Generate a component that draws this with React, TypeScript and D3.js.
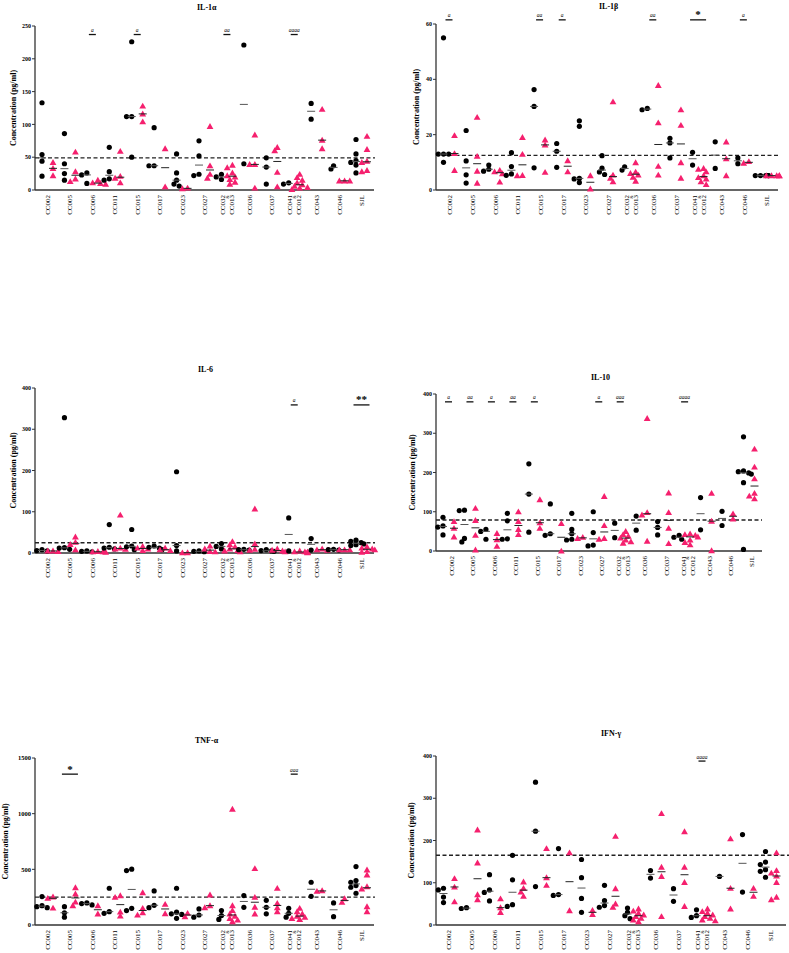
import React from 'react';
import * as d3 from 'd3';

// ---------- DATA ----------
const groups = ['CC002', 'CC005', 'CC006', 'CC011', 'CC015', 'CC017', 'CC023', 'CC027', 'CC032|CC013', 'CC036', 'CC037', 'CC041|CC012', 'CC043', 'CC046', 'SJL'];

// IL-1α
const il1aTicks = [0, 50, 100, 150, 200, 250];
const il1aDashed = 49;
const il1aBlack = [[133, 54, 44, 21], [86, 40, 25, 15], [26, 23, 10], [65, 28, 17, 15], [226, 112, 112, 50], [95, 37, 37], [55, 26, 15, 9, 6], [75, 52, 24, 22], [24, 20, 16], [221, 40], [49, 35, 9], [11, 9], [132, 108], [37, 32], [77, 55, 45, 42, 38, 26]];
const il1aPink = [[42, 33, 22], [58, 28, 17, 13], [15, 11, 10, 9], [59, 21, 18, 11], [128, 116, 104], [63, 5], [3, 2], [97, 37, 24, 18], [38, 34, 26, 22, 20, 16, 12, 9], [84, 39, 39, 3], [65, 60, 27, 5], [24, 19, 15, 11, 8, 6, 4, 3, 1], [123, 76, 63], [14, 14, 14], [82, 62, 44, 42, 30, 28]];
const il1aSig = [{ g: 'CC006', s: 'a', v: 237 }, { g: 'CC015', s: 'a', v: 237 }, { g: 'CC032|CC013', s: 'aa', v: 237 }, { g: 'CC041|CC012', s: 'aaaa', v: 237 }];

// IL-1β
const il1bTicks = [0, 20, 40, 60];
const il1bDashed = 12.5;
const il1bBlack = [[55, 13, 13, 13, 10], [21.5, 10.5, 5.5, 2.5], [9, 7.5, 6.8], [13.5, 8.5, 5.8, 5.3], [36.3, 30.2, 8], [16.8, 14, 8.2], [25, 23, 4.2, 4, 2.7], [12.4, 7.9, 6.5, 5.6], [8.4, 7.2], [29.5, 29], [18.7, 17, 11.6], [13.6, 9], [17.4, 7.8], [11.6, 9.5], [5.2, 5.2, 5.2, 5.2, 5.2]];
const il1bPink = [[19.7, 13.2, 7.1], [26.3, 12.2, 6.8, 2.5], [7.1, 6.6, 5.9, 2.9], [19, 12.9, 5.3, 5.2], [18.1, 16.3, 6.4], [10.6, 6.6], [5.2, 0.4], [31.9, 5.4, 4.3, 3], [9.9, 6.5, 6, 5.4, 4.6, 3.2], [37.8, 24.3, 8.6, 5.4], [29, 23.4, 9.9, 4.3], [7.8, 7.5, 6.6, 5.2, 4.5, 4, 3, 2], [17.4, 11.3, 5.2], [10.3, 9.7], [5.2, 5.2, 5.2, 5.2, 5.2]];
const il1bSig = [{ g: 'CC002', s: 'a', v: 61.5 }, { g: 'CC015', s: 'aa', v: 61.5 }, { g: 'CC017', s: 'a', v: 61.5 }, { g: 'CC036', s: 'aa', v: 61.5 }, { g: 'CC041|CC012', s: '*', v: 61.5, long: true }, { g: 'CC046', s: 'a', v: 61.5 }];

// IL-6
const il6Ticks = [0, 100, 200, 300, 400];
const il6Dashed = 25;
const il6Black = [[8, 6, 5], [328, 13, 12, 9], [5, 4, 3], [69, 14, 12, 10], [57, 17, 15, 8], [17, 14, 12, 8], [197, 18, 5], [5, 4, 3], [23, 16, 10], [9, 8, 7], [8, 6, 5, 4], [85, 5], [35, 7], [9, 8, 7], [31, 28, 25, 22, 20, 18]];
const il6Pink = [[5, 5, 4], [39, 26, 21, 8], [4, 3, 3, 2], [92, 12, 10, 9], [16, 12, 10, 6], [12, 8, 6], [1, 0.5], [17, 10, 4, 3], [28, 20, 15, 10, 6, 5, 3], [107, 22, 9, 7], [10, 7, 5, 3], [5, 3, 2, 1, 2, 3], [10, 8, 7], [8, 8, 8], [15, 12, 10, 8, 4, 2]];
const il6Sig = [{ g: 'CC041|CC012', s: 'a', v: 359 }, { g: 'SJL', s: '**', v: 359, long: true }];

// IL-10
const il10Ticks = [0, 100, 200, 300, 400];
const il10Dashed = 79;
const il10Black = [[86, 64, 61, 41], [104, 103, 32, 23], [55, 50, 30], [96, 77, 31, 30], [222, 145, 48], [120, 44, 40], [96, 55, 44, 30, 28], [100, 47, 15, 13], [71, 34], [89, 53], [75, 60, 41], [40, 35, 30], [136, 54], [101, 65], [291, 204, 202, 199, 196, 174, 4]];
const il10Pink = [[75, 58, 36], [109, 78, 40, 3], [45, 29, 12], [100, 75, 55, 42], [131, 72, 58], [70, 0], [35, 32], [139, 65, 32, 30], [50, 42, 38, 33, 28, 24, 20], [338, 98, 92, 25], [148, 98, 58, 19], [44, 42, 40, 36, 28, 22, 16], [147, 76, 1], [95, 82], [260, 214, 184, 147, 140, 133]];
const il10Sig = [{ g: 'CC002', s: 'a', v: 380 }, { g: 'CC005', s: 'aa', v: 380 }, { g: 'CC006', s: 'a', v: 380 }, { g: 'CC011', s: 'aa', v: 380 }, { g: 'CC015', s: 'a', v: 380 }, { g: 'CC027', s: 'a', v: 380 }, { g: 'CC032|CC013', s: 'aaa', v: 380 }, { g: 'CC041|CC012', s: 'aaaa', v: 380 }];

// TNF-α
const tnfTicks = [0, 500, 1000, 1500];
const tnfDashed = 250;
const tnfBlack = [[255, 174, 165, 156], [165, 110, 70], [198, 192, 180], [330, 120, 105], [501, 489, 150, 130], [306, 177, 156], [330, 115, 100, 95, 60], [144, 90, 70], [130, 85, 50], [264, 159], [222, 159, 100], [150, 105, 70], [384, 258], [198, 75], [525, 399, 384, 354, 339, 285]];
const tnfPink = [[252, 240, 153], [336, 279, 207, 174], [174, 100], [264, 249, 117, 81], [291, 150, 110, 90], [186, 102], [105, 75], [270, 174, 156], [1041, 174, 130, 100, 80, 60, 45, 30], [507, 249, 160, 100], [330, 195, 156, 120], [150, 120, 100, 80, 70, 60, 50], [309, 303], [237, 204], [495, 450, 345, 324, 165, 120]];
const tnfSig = [{ g: 'CC005', s: '*', v: 1355, long: true }, { g: 'CC041|CC012', s: 'aaa', v: 1355 }];

// IFN-γ
const ifnTicks = [0, 100, 200, 300, 400];
const ifnDashed = 165;
const ifnBlack = [[87, 83, 66, 53], [41, 39], [119, 83, 77, 57], [165, 107, 48, 44], [338, 222, 91], [181, 72, 70], [155, 112, 63, 30], [94, 58, 46, 42], [40, 30, 22, 15], [129, 111], [86, 56], [36, 22, 18], [115], [214, 78], [174, 149, 143, 131, 127, 113]];
const ifnPink = [[110, 90, 55], [225, 147, 72, 60], [62, 41, 30], [102, 87, 78, 68], [181, 112, 94], [171, 34], [35, 25], [210, 86, 50, 42], [38, 33, 28, 24, 20, 16, 12, 8], [264, 137, 115, 20], [221, 137, 101, 44], [38, 32, 28, 24, 20, 16, 12, 10], [204, 87, 38], [87, 68], [171, 129, 123, 116, 101, 66, 60]];
const ifnSig = [{ g: 'CC041|CC012', s: 'aaaa', v: 388 }];

// ---------- LAYOUT ----------
const FONT = '"Liberation Serif", "Times New Roman", serif';
const PINK = '#f5206e';

type Cfg = { x0: number; x1: number; dashEnd: number; top: number; bottom: number; c0: number; c1: number; labelDx: number; titleX: number; titleY: number; yTitleX: number; tickFont: number };

const left = { x0: 35, x1: 374, dashEnd: 375, c0: 47.5, c1: 361.5, labelDx: 0, titleX: 197 };

function placeColumn(vals: number[], y: (v: number) => number) {
  const pts = vals.map((v) => ({ v, py: y(v), dx: 0 })).sort((a, b) => a.py - b.py);
  const placed: { py: number; dx: number }[] = [];
  const cands = [0, -2.6, 2.6, -5.2, 5.2, -7.8, 7.8];
  for (const p of pts) {
    for (const c of cands) {
      if (placed.every((q) => Math.hypot(q.dx - c, q.py - p.py) >= 4)) { p.dx = c; break; }
      p.dx = c;
    }
    placed.push({ py: p.py, dx: p.dx });
  }
  return pts;
}

function Panel(props: { cfg: Cfg; title: string; black: number[][]; pink: number[][]; ticks: number[]; dashed: number; sig: { g: string; s: string; v: number; long?: boolean }[] }) {
  const { cfg, title, black, pink, ticks, dashed, sig } = props;
  const x = d3.scalePoint<string>().domain(groups).range([cfg.c0, cfg.c1]);
  const y = d3.scaleLinear().domain([0, ticks[ticks.length - 1]]).range([cfg.bottom, cfg.top]);
  const tri = d3.symbol().type(d3.symbolTriangle).size(20)() as string;
  const off = 5.5;
  const cols: React.ReactNode[] = [];
  groups.forEach((g, gi) => {
    const cx = x(g) as number;
    [{ vals: black[gi], kind: 'b', cx: cx - off }, { vals: pink[gi], kind: 'p', cx: cx + off }].forEach((col, ci) => {
      const pts = placeColumn(col.vals, y);
      pts.forEach((p, pi) => {
        if (col.kind === 'b') cols.push(<circle key={`${g}-${ci}-${pi}`} cx={col.cx + p.dx} cy={p.py} r={2.6} fill="#000" />);
        else cols.push(<path key={`${g}-${ci}-${pi}`} d={tri} transform={`translate(${col.cx + p.dx},${p.py + 0.6})`} fill={PINK} />);
      });
      const med = d3.median(col.vals) as number;
      cols.push(<line key={`${g}-${ci}-m`} x1={col.cx - 4} x2={col.cx + 4} y1={y(med)} y2={y(med)} stroke={col.kind === 'b' ? '#555' : '#222'} strokeWidth={1} />);
    });
  });
  return (
    <g fontFamily={FONT}>
      <text x={cfg.titleX} y={cfg.titleY} fontSize={8} fontWeight="bold">{title}</text>
      <text transform={`translate(${cfg.yTitleX},${(cfg.top + cfg.bottom) / 2}) rotate(-90)`} textAnchor="middle" fontSize={8} fontWeight="bold">Concentration (pg/ml)</text>
      {ticks.map((t) => (
        <g key={t}>
          <line x1={cfg.x0 - 3} x2={cfg.x0} y1={y(t)} y2={y(t)} stroke="#333" strokeWidth={1} />
          <text x={cfg.x0 - 4} y={y(t)} dy="0.35em" textAnchor="end" fontSize={cfg.tickFont} fontWeight="bold">{t}</text>
        </g>
      ))}
      <line x1={cfg.x0} x2={cfg.x0} y1={cfg.top} y2={cfg.bottom} stroke="#333" strokeWidth={1.3} />
      <line x1={cfg.x0} x2={cfg.x1} y1={cfg.bottom} y2={cfg.bottom} stroke="#333" strokeWidth={1.6} />
      <line x1={cfg.x0} x2={cfg.dashEnd} y1={y(dashed)} y2={y(dashed)} stroke="#222" strokeWidth={1.4} strokeDasharray="4 2.5" />
      {cols}
      {sig.map((s) => {
        const cx = x(s.g) as number;
        const w = s.long ? 16 : 7;
        const sy = y(s.v);
        const star = s.s.includes('*');
        return (
          <g key={s.g}>
            <line x1={cx - w / 2} x2={cx + w / 2} y1={sy} y2={sy} stroke="#111" strokeWidth={1.3} />
            {star ? (
              <text x={cx} y={sy - 1.5} textAnchor="middle" fontSize={11} fontWeight="bold">{s.s}</text>
            ) : (
              <text x={cx} y={sy - 2.5} textAnchor="middle" fontSize={5.5} fontStyle="italic">{s.s}</text>
            )}
          </g>
        );
      })}
      {groups.map((g) => {
        const cx = (x(g) as number) + cfg.labelDx;
        const parts = g.split('|');
        if (parts.length === 1) {
          return <text key={g} transform={`translate(${cx},${cfg.bottom + 5}) rotate(-90)`} textAnchor="end" dy="0.35em" fontSize={7}>{g}</text>;
        }
        return (
          <g key={g}>
            <text transform={`translate(${cx - 4.5},${cfg.bottom + 5}) rotate(-90)`} textAnchor="end" dy="0.35em" fontSize={7}>{parts[0]}</text>
            <text transform={`translate(${cx},${cfg.bottom + 7}) rotate(-90)`} textAnchor="middle" dy="0.35em" fontSize={4.5}>&amp;</text>
            <text transform={`translate(${cx + 4.5},${cfg.bottom + 5}) rotate(-90)`} textAnchor="end" dy="0.35em" fontSize={7}>{parts[1]}</text>
          </g>
        );
      })}
    </g>
  );
}

const cfgIL1a: Cfg = { ...left, top: 26, bottom: 190, titleY: 10, yTitleX: 16, tickFont: 6 };
const cfgIL1b: Cfg = { x0: 436, x1: 778, dashEnd: 778, c0: 449, c1: 766, labelDx: 1, titleX: 599, titleY: 9, top: 24, bottom: 190, yTitleX: 419, tickFont: 6 };
const cfgIL6: Cfg = { ...left, top: 388, bottom: 553, titleX: 198, titleY: 372, yTitleX: 16, tickFont: 6 };
const cfgIL10: Cfg = { x0: 436, x1: 762, dashEnd: 762, c0: 448.5, c1: 749, labelDx: 3, titleX: 591, titleY: 380, top: 394, bottom: 551, yTitleX: 415, tickFont: 6 };
const cfgTNF: Cfg = { ...left, top: 758, bottom: 925, titleX: 195, titleY: 743, yTitleX: 8, tickFont: 6.5 };
const cfgIFN: Cfg = { x0: 436, x1: 786, dashEnd: 789, c0: 449, c1: 771, labelDx: 0, titleX: 601, titleY: 736, top: 756, bottom: 925, yTitleX: 414, tickFont: 6 };

export default function App() {
  return (
    <svg width={789} height={953} style={{ position: 'absolute', left: 0, top: 0, background: '#fff' }}>
      <rect width={789} height={953} fill="#fff" />
      <Panel cfg={cfgIL1a} title="IL-1α" black={il1aBlack} pink={il1aPink} ticks={il1aTicks} dashed={il1aDashed} sig={il1aSig} />
      <Panel cfg={cfgIL1b} title="IL-1β" black={il1bBlack} pink={il1bPink} ticks={il1bTicks} dashed={il1bDashed} sig={il1bSig} />
      <Panel cfg={cfgIL6} title="IL-6" black={il6Black} pink={il6Pink} ticks={il6Ticks} dashed={il6Dashed} sig={il6Sig} />
      <Panel cfg={cfgIL10} title="IL-10" black={il10Black} pink={il10Pink} ticks={il10Ticks} dashed={il10Dashed} sig={il10Sig} />
      <Panel cfg={cfgTNF} title="TNF-α" black={tnfBlack} pink={tnfPink} ticks={tnfTicks} dashed={tnfDashed} sig={tnfSig} />
      <Panel cfg={cfgIFN} title="IFN-γ" black={ifnBlack} pink={ifnPink} ticks={ifnTicks} dashed={ifnDashed} sig={ifnSig} />
    </svg>
  );
}
